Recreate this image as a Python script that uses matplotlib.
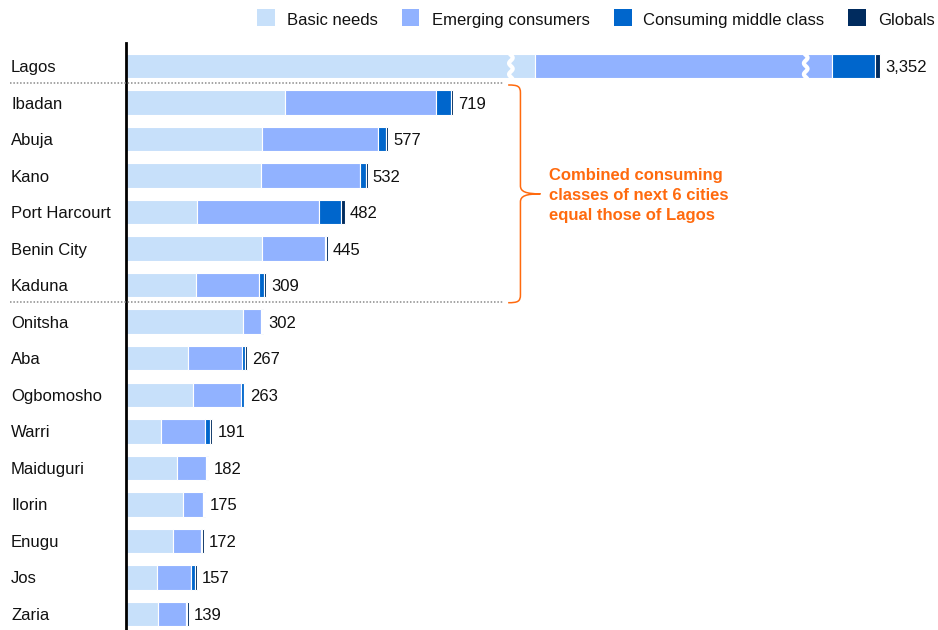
import numpy as np
import matplotlib
matplotlib.use("Agg")
import matplotlib.pyplot as plt
from matplotlib.patches import Rectangle, PathPatch
from matplotlib.path import Path
from matplotlib import transforms

# ---- data: population by consumer class, thousands ----
cities = ["Lagos", "Ibadan", "Abuja", "Kano", "Port Harcourt", "Benin City",
          "Kaduna", "Onitsha", "Aba", "Ogbomosho", "Warri", "Maiduguri",
          "Ilorin", "Enugu", "Jos", "Zaria"]
basic_needs = [1852, 351, 301, 298, 158, 301, 155, 259, 137, 149, 79, 114, 126, 104, 69, 72]
emerging_consumers = [1394, 331, 254, 217, 267, 137, 138, 39, 118, 105, 96, 63, 45, 62, 75, 61]
middle_class = [96, 34, 18, 14, 48, 3, 11, 2, 7, 6, 10, 2, 2, 3, 8, 3]
globals_class = [10, 3, 4, 3, 9, 4, 5, 2, 5, 3, 6, 3, 2, 3, 5, 3]
series_names = ["Basic needs", "Emerging consumers", "Consuming middle class", "Globals"]
callout = "Combined consuming\nclasses of next 6 cities\nequal those of Lagos"

colors = ["#C7E0FA", "#91B2FF", "#0066CC", "#002B5E"]
orange = "#FF6A0E"

# Lagos is drawn on a broken scale: amount removed from each of its segments
lagos_cut = [952, 742, 0, 0]
# where the break marks sit on the shortened Lagos bar (drawn units)
break_marks = [847, 1495]

plt.rcParams["font.family"] = ["Liberation Sans", "DejaVu Sans"]

W, H = 938, 630
fig = plt.figure(figsize=(W / 100, H / 100), dpi=100)

def fx(px):
    return px / W

def fy(py):
    return 1 - py / H

x0_px = 125.5
px_per_unit = 0.455
row_px = 36.53
top_px = 43
first_row_px = 66
n = len(cities)

xmax = (W - x0_px) / px_per_unit
ytop = -(first_row_px - top_px) / row_px
ybot = (n - 1) + (H - (first_row_px + (n - 1) * row_px)) / row_px

ax = fig.add_axes([fx(x0_px), 0, 1 - fx(x0_px), (H - top_px) / H])
ax.set_xlim(0, xmax)
ax.set_ylim(ybot, ytop)
for s in ["top", "right", "bottom"]:
    ax.spines[s].set_visible(False)
ax.spines["left"].set_color("black")
ax.spines["left"].set_linewidth(2.0)
ax.spines["left"].set_zorder(5)
ax.set_xticks([])
ax.set_yticks([])

data = np.array([basic_needs, emerging_consumers, middle_class, globals_class], dtype=float)
shown = data.copy()
shown[:, 0] -= lagos_cut
y = np.arange(n)
left = np.zeros(n)
for k in range(4):
    ax.barh(y, shown[k], left=left, height=0.67, color=colors[k],
            edgecolor="white", linewidth=0.8, zorder=2)
    left += shown[k]

totals = data.sum(axis=0)
for i in range(n):
    ax.annotate(f"{int(totals[i]):,}", (left[i], y[i]), xytext=(5, -6),
                textcoords="offset pixels", ha="left", va="baseline",
                fontsize=12, color="#111111")

# wavy break marks across the Lagos bar
yy = np.linspace(-0.42, 0.42, 80)
for bx in break_marks:
    xx = bx + 4.0 * np.sin(2 * np.pi * yy * row_px / 11)
    ax.plot(xx, yy, color="white", lw=3.0, zorder=4, solid_capstyle="butt")

# city names
trans = transforms.blended_transform_factory(fig.transFigure, ax.transData)
for i, c in enumerate(cities):
    ax.annotate(c, (fx(11), y[i]), xycoords=trans, xytext=(0, -6),
                textcoords="offset pixels", ha="left", va="baseline",
                fontsize=12, color="#111111", annotation_clip=False)

# dotted separators around the group of six
for sy in [0.47, 6.47]:
    ax.plot([fx(10), fx(503)], [sy, sy], transform=trans, color="#8A8A8A",
            lw=1.1, ls=(0, (1, 1.2)), clip_on=False, zorder=6)

# curly brace
xe, xs, xt = 841, 868, 912
yt, yb, ym = 0.52, 6.48, 3.5
verts = [(xe, yt), (862, yt), (xs, yt + 0.03), (xs, yt + 0.22),
         (xs, ym - 0.22),
         (xs, ym - 0.06), (880, ym), (xt, ym),
         (880, ym), (xs, ym + 0.06), (xs, ym + 0.22),
         (xs, yb - 0.22),
         (xs, yb - 0.03), (862, yb), (xe, yb)]
codes = [Path.MOVETO, Path.CURVE4, Path.CURVE4, Path.CURVE4,
         Path.LINETO,
         Path.CURVE4, Path.CURVE4, Path.CURVE4,
         Path.CURVE4, Path.CURVE4, Path.CURVE4,
         Path.LINETO,
         Path.CURVE4, Path.CURVE4, Path.CURVE4]
ax.add_patch(PathPatch(Path(verts, codes), facecolor="none", edgecolor=orange,
                       lw=1.1, clip_on=False, zorder=6))

# callout: three lines, baselines 20 px apart
for j, line in enumerate(callout.split("\n")):
    fig.text(fx(549), fy(180 + 20 * j), line, color=orange, fontsize=12,
             fontweight="bold", ha="left", va="baseline")

# legend row
sq_x = [257.3, 401.7, 614, 848]
txt_x = [286.7, 431.7, 643, 878]
for k in range(4):
    fig.add_artist(Rectangle((fx(sq_x[k]), fy(26)), 17.7 / W, 16.7 / H,
                             transform=fig.transFigure, facecolor=colors[k],
                             edgecolor="none"))
    fig.text(fx(txt_x[k]), fy(25), series_names[k], fontsize=12,
             color="#111111", ha="left", va="baseline")

fig.savefig("out.png", dpi=100)
